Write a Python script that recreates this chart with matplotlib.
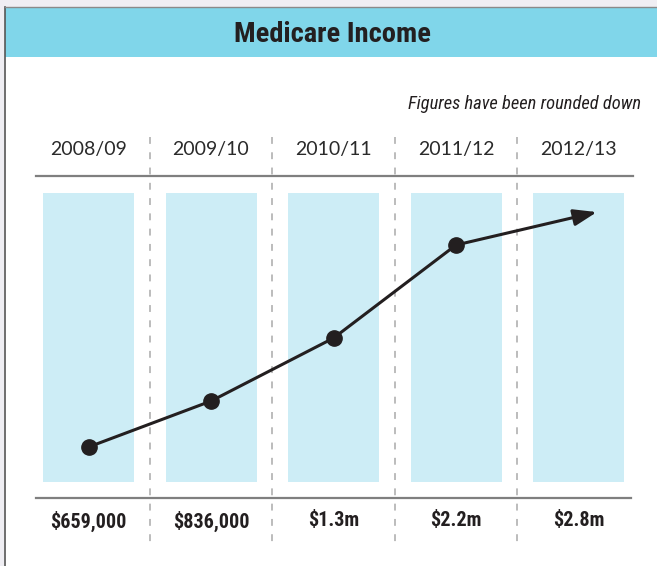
import matplotlib
matplotlib.use("Agg")
import matplotlib.pyplot as plt
from matplotlib.patches import Rectangle

# ---- data ----
periods = ["2008/09", "2009/10", "2010/11", "2011/12", "2012/13"]
income_labels = ["$659,000", "$836,000", "$1.3m", "$2.2m", "$2.8m"]
trend_x = [0, 1, 2, 3]
trend_level = [12.1, 28.0, 49.8, 82.0]          # schematic heights
arrow_end = (4.15, 93.4)
column_height = [100, 100, 100, 100, 100]

TITLE = "Medicare Income"
NOTE = "Figures have been rounded down"

# ---- style ----
W, H = 657, 566
FONT = ["Roboto Condensed", "DejaVu Sans"]
YEARFONT = ["Lato", "DejaVu Sans"]
plt.rcParams["font.family"] = FONT
HEADER = "#80d6ea"
COLBG = "#cdedf6"
INK = "#231f20"

fig = plt.figure(figsize=(W / 100, H / 100), dpi=100)
fig.patch.set_facecolor("white")

# pixel -> data mapping for the chart axes (column units / level units)
X0, DX = 88.5, 122.5
Y0, DY = 482.0, 2.89
def dx(px):
    return (px - X0) / DX
def dy(py):
    return (Y0 - py) / DY

ax = fig.add_axes([0, 0, 1, 1])
ax.set_xlim(dx(0), dx(W))
ax.set_ylim(dy(H), dy(0))
ax.axis("off")
ax.patch.set_alpha(0)

# page frame (figure pixel coords)
def fx(px):
    return px / W
def fy(py):
    return 1 - py / H

fig.patches.append(Rectangle((0, fy(7)), 1, 7 / H, transform=fig.transFigure,
                             facecolor="#efeef3", edgecolor="none", zorder=0))
fig.patches.append(Rectangle((0, 0), fx(4), 1, transform=fig.transFigure,
                             facecolor="#efeef3", edgecolor="none", zorder=0))
fig.patches.append(Rectangle((fx(4.5), fy(57)), 1, 50 / H, transform=fig.transFigure,
                             facecolor=HEADER, edgecolor="none", zorder=1))
fig.lines.append(plt.Line2D([fx(4.5), fx(4.5)], [0, fy(7)], transform=fig.transFigure,
                            color="#555555", lw=1.2, zorder=2))
fig.lines.append(plt.Line2D([fx(4.5), 1], [fy(7), fy(7)], transform=fig.transFigure,
                            color="#8a8a8a", lw=1.0, zorder=2))
fig.text(fx(332), fy(34), TITLE, ha="center", va="center", fontsize=20.5,
         fontweight="bold", color=INK, family=FONT)

# columns
xs = list(range(len(periods)))
ax.bar(xs, column_height, width=91 / DX, bottom=0, color=COLBG, zorder=1)

# separators
for i in range(len(periods) - 1):
    ax.plot([i + 0.5, i + 0.5], [dy(137), dy(546)], color="#a9a9a9", lw=1.1,
            dashes=(4.5, 5.5), zorder=2)

# horizontal rules
ax.plot([dx(36), dx(633)], [dy(176), dy(176)], color="#7f7f7f", lw=1.6, zorder=2)
ax.plot([dx(36), dx(631)], [dy(498), dy(498)], color="#7f7f7f", lw=1.6, zorder=2)

# labels
for i, (p, v) in enumerate(zip(periods, income_labels)):
    ax.text(i, dy(150), p, ha="center", va="center", fontsize=14, color="#2a2a2a",
            family=YEARFONT)
    ax.text(i, dy(521), v, ha="center", va="center", fontsize=14.5,
            fontweight="bold", color=INK)

ax.text(dx(641), dy(104), NOTE, ha="right", va="center", fontsize=13.3,
        style="italic", color=INK)

# trend line + arrow
ax.annotate("", xy=arrow_end, xytext=(trend_x[-1], trend_level[-1]),
            arrowprops=dict(arrowstyle="-|>,head_length=1.4,head_width=0.5",
                            color=INK, lw=2.2, shrinkA=0, shrinkB=0),
            zorder=4)
ax.plot(trend_x, trend_level, color=INK, lw=2.2, marker="o", markersize=11,
        zorder=5, solid_capstyle="round")

fig.savefig("out.png", dpi=100)
